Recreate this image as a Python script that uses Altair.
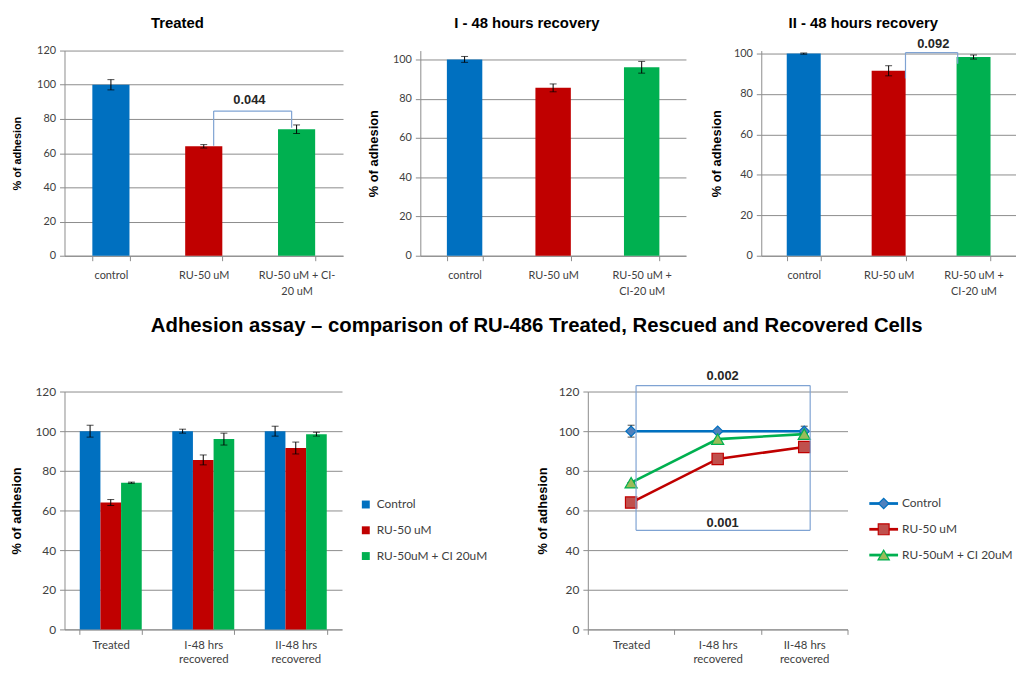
import altair as alt
import pandas as pd

# ---------------- data ----------------
series = ["Control", "RU-50 uM", "RU-50uM + CI 20uM"]
bar_colors = ["#0070C0", "#C00000", "#00B050"]
marker_fill = ["#4F81BD", "#C0504D", "#9BBB59"]
marker_shapes = ["diamond", "square", "triangle-up"]
marker_sizes = [110, 130, 150]

p1_cats = ["control", "RU-50 uM", "RU-50 uM + CI-|20 uM"]
p1_vals = [100, 64, 74]
p1_errs = [3, 1, 2.5]

p2_cats = ["control", "RU-50 uM", "RU-50 uM +|CI-20 uM"]
p2_vals = [100, 85.5, 96]
p2_errs = [1.5, 2, 3]

p3_cats = ["control", "RU-50 uM", "RU-50 uM +|CI-20 uM"]
p3_vals = [100, 91.5, 98.3]
p3_errs = [0.3, 2.5, 1]

stages = ["Treated", "I-48 hrs|recovered", "II-48 hrs|recovered"]
bar_ctrl = [100, 100, 100]
bar_ctrl_err = [3, 1, 2.5]
bar_ru = [64, 85.5, 91.5]
bar_ru_err = [1.5, 2.5, 3]
bar_ci = [74, 96, 98.5]
bar_ci_err = [0.3, 3, 1]

line_ctrl = [100, 100, 100]
line_ctrl_err = [3, 0.5, 2.5]
line_ru = [64, 86, 92]
line_ru_err = [0, 0, 2.5]
line_ci = [74, 96, 98.5]
line_ci_err = [0, 0, 0]

# significance annotations (bracket: left foot, top, right foot)
p1_bracket = [64.3, 84.6, 74.8]
p1_pval = "0.044"
p1_pval_y = 91
p3_bracket = [87.7, 100.5, 95]
p3_pval = "0.092"
p3_pval_y = 104.5
box_bottom, box_top = 50, 123
box_top_label, box_top_label_y = "0.002", 128
box_bot_label, box_bot_label_y = "0.001", 53.5

main_title = "Adhesion assay \u2013 comparison of  RU-486 Treated, Rescued and Recovered Cells"

GRID = "#8C8C8C"
LBL = "#404040"
BRK = "#7FA3D3"
YTICKS = [0, 20, 40, 60, 80, 100, 120]


def y_axis(title_size, label_size, title_pad):
    return alt.Axis(values=YTICKS, tickCount=10, title="% of adhesion", titleFontSize=title_size,
                    titleFont="Liberation Sans", titleFontWeight="bold", titleColor="#000000",
                    titlePadding=title_pad, labelFont="Lato", labelFontSize=label_size,
                    labelColor=LBL, labelPadding=4, tickSize=5, tickColor=GRID,
                    domainColor=GRID, grid=True, gridColor=GRID, gridWidth=1)


def x_axis(label_size, pad=9, line_height=16):
    return alt.Axis(title=None, tickBand="extent", tickSize=5, tickColor=GRID,
                    domainColor=GRID, labelAngle=0, labelFont="Lato",
                    labelFontSize=label_size, labelColor=LBL, labelPadding=pad,
                    labelLineHeight=line_height, labelExpr="split(datum.label, '|')", grid=False)


def yscale(ymax):
    return alt.Scale(domain=[0, ymax], nice=False, zero=True, padding=0)


def bar_layers(cats, vals, errs, ymax, title_size, label_size, title_pad):
    df = pd.DataFrame({"cat": cats, "val": vals,
                       "lo": [v - e for v, e in zip(vals, errs)],
                       "hi": [v + e for v, e in zip(vals, errs)]})
    x = alt.X("cat:N", sort=cats,
              scale=alt.Scale(domain=cats, paddingInner=0.6, paddingOuter=0.3),
              axis=x_axis(label_size))
    y = alt.Y("val:Q", scale=yscale(ymax), axis=y_axis(title_size, label_size, title_pad))
    base = alt.Chart(df)
    bars = base.mark_bar().encode(
        x=x, y=y,
        color=alt.Color("cat:N", scale=alt.Scale(domain=cats, range=bar_colors), legend=None))
    xs = alt.X("cat:N", sort=cats)
    err = base.mark_rule(color="#000000", strokeWidth=1).encode(x=xs, y="lo:Q", y2="hi:Q")
    tlo = base.mark_tick(color="#000000", size=7, thickness=1).encode(x=xs, y="lo:Q")
    thi = base.mark_tick(color="#000000", size=7, thickness=1).encode(x=xs, y="hi:Q")
    return [bars, err, tlo, thi]


def bracket_layers(cats, br, pval, pval_y, off_l, off_r, text_dx):
    left = pd.DataFrame({"cat": [cats[1]], "y": [br[0]], "y2": [br[1]]})
    right = pd.DataFrame({"cat": [cats[2]], "y": [br[2]], "y2": [br[1]]})
    top = pd.DataFrame({"cat": [cats[1]], "cat2": [cats[2]], "y": [br[1]]})
    lab = pd.DataFrame({"cat": [cats[1]], "y": [pval_y], "t": [pval]})
    xs = alt.X("cat:N", sort=cats)
    l1 = alt.Chart(left).mark_rule(color=BRK, strokeWidth=1.2, xOffset=off_l).encode(
        x=xs, y="y:Q", y2="y2:Q")
    l2 = alt.Chart(right).mark_rule(color=BRK, strokeWidth=1.2, xOffset=off_r).encode(
        x=xs, y="y:Q", y2="y2:Q")
    l3 = alt.Chart(top).mark_rule(color=BRK, strokeWidth=1.2, xOffset=off_l, x2Offset=off_r).encode(
        x=xs, x2="cat2:N", y="y:Q")
    t = alt.Chart(lab).mark_text(font="Liberation Sans", fontWeight="bold", fontSize=13,
                                 color="#262626", dx=text_dx).encode(x=xs, y="y:Q", text="t:N")
    return [l1, l2, l3, t]


def title(text, offset):
    return alt.TitleParams(text, font="Liberation Sans", fontSize=15, fontWeight="bold",
                           color="#000000", anchor="middle", frame="bounds", offset=offset)


# ---- top row ----
p1 = alt.layer(*bar_layers(p1_cats, p1_vals, p1_errs, 120, 11, 11, 14),
               *bracket_layers(p1_cats, p1_bracket, p1_pval, p1_pval_y, 10, -5, 46)
               ).properties(width=281, height=207, title=title("Treated", 14))

p2 = alt.layer(*bar_layers(p2_cats, p2_vals, p2_errs, 104.5, 13, 11, 12)
               ).properties(width=268, height=207, title=title("I - 48 hours recovery", 20))

p3 = alt.layer(*bar_layers(p3_cats, p3_vals, p3_errs, 101.5, 13, 11, 10),
               *bracket_layers(p3_cats, p3_bracket, p3_pval, p3_pval_y, 17, -16, 45)
               ).properties(width=257, height=207, title=title("II - 48 hours recovery", 8))

row1 = alt.hconcat(p1, p2, p3, spacing=24).resolve_scale(
    x="independent", y="independent", color="independent")

# ---- bottom-left grouped bars ----
rows = []
for s, vals, errs in [(series[0], bar_ctrl, bar_ctrl_err), (series[1], bar_ru, bar_ru_err),
                      (series[2], bar_ci, bar_ci_err)]:
    for st, v, e in zip(stages, vals, errs):
        rows.append({"stage": st, "series": s, "val": v, "lo": v - e, "hi": v + e})
gdf = pd.DataFrame(rows)

gx = alt.X("stage:N", sort=stages,
           scale=alt.Scale(domain=stages, paddingInner=0.33, paddingOuter=0.165),
           axis=x_axis(11.5, 5, 14))
gy = alt.Y("val:Q", scale=yscale(120), axis=y_axis(13, 12, 11))
gxo = alt.XOffset("series:N", sort=series,
                  scale=alt.Scale(domain=series, paddingInner=0, paddingOuter=0))
gbase = alt.Chart(gdf)
gbars = gbase.mark_bar().encode(
    x=gx, y=gy, xOffset=gxo,
    color=alt.Color("series:N", sort=series,
                    scale=alt.Scale(domain=series, range=bar_colors),
                    legend=alt.Legend(title=None, orient="none", legendX=298, legendY=108,
                                      symbolType="square", symbolSize=64, symbolStrokeWidth=0,
                                      labelFont="Lato", labelFontSize=12, labelColor=LBL,
                                      rowPadding=14, padding=0, labelOffset=5)))
gxs = alt.X("stage:N", sort=stages)
gerr = gbase.mark_rule(color="#000000").encode(x=gxs, xOffset=gxo, y="lo:Q", y2="hi:Q")
gtlo = gbase.mark_tick(color="#000000", size=7, thickness=1).encode(x=gxs, xOffset=gxo, y="lo:Q")
gthi = gbase.mark_tick(color="#000000", size=7, thickness=1).encode(x=gxs, xOffset=gxo, y="hi:Q")
p4 = alt.layer(gbars, gerr, gtlo, gthi).properties(width=280, height=240)

# ---- bottom-right line chart ----
rows = []
for s, vals, errs in [(series[0], line_ctrl, line_ctrl_err), (series[1], line_ru, line_ru_err),
                      (series[2], line_ci, line_ci_err)]:
    for st, v, e in zip(stages, vals, errs):
        rows.append({"stage": st, "series": s, "val": v, "lo": v - e, "hi": v + e})
ldf = pd.DataFrame(rows)
lx = alt.X("stage:N", sort=stages,
           scale=alt.Scale(domain=stages, paddingInner=0, paddingOuter=0),
           axis=x_axis(11.5, 5, 14))
ly = alt.Y("val:Q", scale=yscale(120), axis=y_axis(13, 12, 9))
lbase = alt.Chart(ldf)
lxs = alt.X("stage:N", sort=stages)
lines = lbase.mark_line(strokeWidth=2.6).encode(
    x=lx, y=ly,
    stroke=alt.Stroke("series:N", sort=series, scale=alt.Scale(domain=series, range=bar_colors),
                      legend=None),
    detail="series:N")
lerr = lbase.mark_rule(color="#000000").encode(x=lxs, y="lo:Q", y2="hi:Q")
ltlo = lbase.mark_tick(color="#000000", size=7, thickness=1).encode(x=lxs, y="lo:Q")
lthi = lbase.mark_tick(color="#000000", size=7, thickness=1).encode(x=lxs, y="hi:Q")
pts = []
for i, s in enumerate(series):
    pts.append(lbase.transform_filter(alt.datum.series == s).mark_point(
        shape=marker_shapes[i], size=marker_sizes[i], fill=marker_fill[i], fillOpacity=1,
        opacity=1, stroke=bar_colors[i], strokeWidth=1.2).encode(x=lxs, y="val:Q"))

box = pd.DataFrame({"a": [stages[0]], "b": [stages[2]], "bot": [box_bottom], "top": [box_top]})
bx = alt.X("a:N", sort=stages)
bl = alt.Chart(box).mark_rule(color=BRK, strokeWidth=1.2, xOffset=5).encode(x=bx, y="bot:Q", y2="top:Q")
br = alt.Chart(box).mark_rule(color=BRK, strokeWidth=1.2, xOffset=6).encode(
    x=alt.X("b:N", sort=stages), y="bot:Q", y2="top:Q")
bt = alt.Chart(box).mark_rule(color=BRK, strokeWidth=1.2, xOffset=5, x2Offset=6).encode(
    x=bx, x2="b:N", y="top:Q")
bb = alt.Chart(box).mark_rule(color=BRK, strokeWidth=1.2, xOffset=5, x2Offset=6).encode(
    x=bx, x2="b:N", y="bot:Q")
labs = pd.DataFrame({"stage": [stages[1], stages[1]], "y": [box_top_label_y, box_bot_label_y],
                     "t": [box_top_label, box_bot_label]})
blab = alt.Chart(labs).mark_text(font="Liberation Sans", fontWeight="bold", fontSize=13,
                                 color="#262626", dx=5).encode(x=lxs, y="y:Q", text="t:N")

main5 = alt.layer(lines, lerr, ltlo, lthi, *pts, bl, br, bt, bb, blab)

# legend of the line chart (line segment + marker + label for each series)
leg_df = pd.DataFrame({"series": series})
leg_y = alt.Y("series:N", sort=series,
              scale=alt.Scale(type="point", domain=series, range=[113, 165], padding=0),
              axis=None)
lbase2 = alt.Chart(leg_df)
leg_line = lbase2.mark_rule(strokeWidth=2.8).encode(
    x=alt.value(284), x2=alt.value(313), y=leg_y,
    color=alt.Color("series:N", sort=series, scale=alt.Scale(domain=series, range=bar_colors),
                    legend=None))
leg_pt = lbase2.mark_point(opacity=1, fillOpacity=1, strokeWidth=1.2).encode(
    x=alt.value(298.5), y=alt.Y("series:N", sort=series),
    shape=alt.Shape("series:N", sort=series,
                    scale=alt.Scale(domain=series, range=marker_shapes), legend=None),
    fill=alt.Fill("series:N", sort=series,
                  scale=alt.Scale(domain=series, range=marker_fill), legend=None),
    stroke=alt.Stroke("series:N", sort=series,
                      scale=alt.Scale(domain=series, range=bar_colors), legend=None),
    size=alt.Size("series:N", sort=series,
                  scale=alt.Scale(domain=series, range=marker_sizes), legend=None))
leg_txt = lbase2.mark_text(align="left", baseline="middle", font="Lato", fontSize=12,
                           color=LBL).encode(x=alt.value(317), y=alt.Y("series:N", sort=series),
                                             text="series:N")
legend5 = alt.layer(leg_line, leg_pt, leg_txt)

p5 = alt.layer(main5, legend5).resolve_scale(
    x="independent", y="independent", color="independent", stroke="independent",
    fill="independent", shape="independent", size="independent").properties(
    width=262, height=240)

ALL = dict(x="independent", y="independent", color="independent", shape="independent",
           stroke="independent", fill="independent", size="independent")
row2 = alt.hconcat(p4, p5, spacing=49).resolve_scale(**ALL).properties(
    title=alt.TitleParams(main_title, font="Liberation Sans", fontSize=20.5,
                          fontWeight="bold", color="#000000", anchor="middle", offset=34, dx=25))

chart = alt.vconcat(row1, row2, spacing=19).resolve_scale(**ALL).properties(
    padding={"left": 3, "top": 4, "right": 0, "bottom": 0}).configure_view(stroke=None)

chart.save("out.html", embed_options={"renderer": "svg", "actions": False})
